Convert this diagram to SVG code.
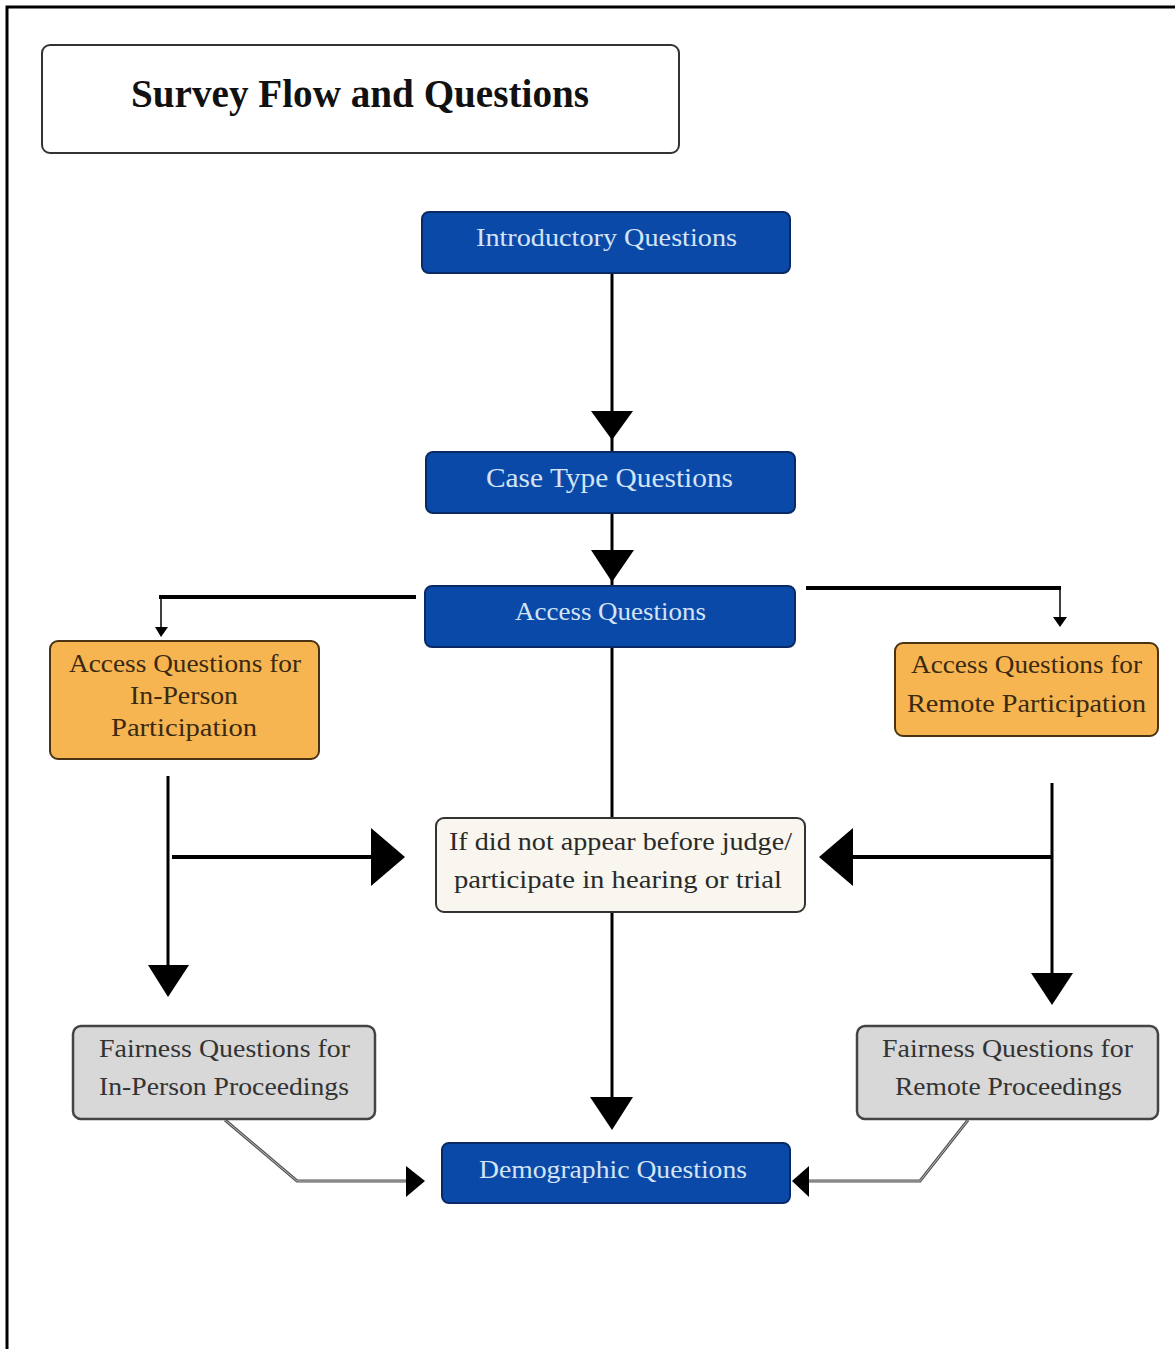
<svg xmlns="http://www.w3.org/2000/svg" width="1175" height="1349" viewBox="0 0 1175 1349">
<defs>
<style>
.t{font-family:"Liberation Serif","Times New Roman",serif;text-anchor:middle}
.blue rect{fill:#0B49A8;stroke:#0A2A66;stroke-width:2}
.blue text{fill:#D3E4F6;font-size:26px}
.orange rect{fill:#F7B551;stroke:#4A3212;stroke-width:2}
.orange text{fill:#3A2A12;font-size:25px}
.cream rect{fill:#F8F6EE;stroke:#333;stroke-width:2}
.cream text{fill:#2A2A2A;font-size:26px}
.gray rect{fill:#D8D8D8;stroke:#444;stroke-width:2.5}
.gray text{fill:#333;font-size:25px}
.ln{stroke:#000;fill:none}
.ah{fill:#000}
</style>
</defs>
<rect x="0" y="0" width="1175" height="1349" fill="#fff"/>
<path d="M7,1349 V7 H1175" fill="none" stroke="#000" stroke-width="3"/>

<g id="title">
<rect x="42" y="45" width="637" height="108" rx="8" fill="#fff" stroke="#333" stroke-width="2"/>
<text class="t" x="360" y="107" font-size="39" font-weight="bold" fill="#111" textLength="458" lengthAdjust="spacingAndGlyphs">Survey Flow and Questions</text>
</g>

<g id="connectors">
<!-- intro -> case -->
<line class="ln" x1="612" y1="273" x2="612" y2="452" stroke-width="3"/>
<polygon class="ah" points="591,411 633,411 612,440"/>
<!-- case -> access -->
<line class="ln" x1="612" y1="513" x2="612" y2="586" stroke-width="3"/>
<polygon class="ah" points="591,550 634,550 612,582"/>
<!-- access -> left orange -->
<line class="ln" x1="416" y1="597" x2="159" y2="597" stroke-width="4"/>
<line class="ln" x1="161" y1="596" x2="161" y2="630" stroke-width="1.5"/>
<polygon class="ah" points="155,627 168,627 161,637"/>
<!-- access -> right orange -->
<line class="ln" x1="806" y1="588" x2="1061" y2="588" stroke-width="4"/>
<line class="ln" x1="1060" y1="588" x2="1060" y2="620" stroke-width="1.5"/>
<polygon class="ah" points="1053,617 1067,617 1060,627"/>
<!-- access -> conditional -->
<line class="ln" x1="612" y1="647" x2="612" y2="818" stroke-width="3"/>
<!-- left orange branch -->
<line class="ln" x1="168" y1="776" x2="168" y2="968" stroke-width="3"/>
<polygon class="ah" points="148,965 189,965 168,997"/>
<line class="ln" x1="172" y1="857" x2="373" y2="857" stroke-width="4"/>
<polygon class="ah" points="371,828 371,886 405,857"/>
<!-- right orange branch -->
<line class="ln" x1="1052" y1="783" x2="1052" y2="976" stroke-width="3"/>
<polygon class="ah" points="1031,973 1073,973 1052,1005"/>
<line class="ln" x1="1052" y1="857" x2="851" y2="857" stroke-width="4"/>
<polygon class="ah" points="853,828 853,886 819,857"/>
<!-- conditional -> demographic -->
<line class="ln" x1="612" y1="913" x2="612" y2="1100" stroke-width="3"/>
<polygon class="ah" points="590,1097 633,1097 612,1130"/>
<!-- fairness left -> demographic -->
<polyline points="225,1120 297,1181 407,1181" fill="none" stroke="#555" stroke-width="3"/>
<polyline points="225,1120 297,1181 407,1181" fill="none" stroke="#bbb" stroke-width="1"/>
<polygon class="ah" points="406,1166 406,1197 425,1181"/>
<!-- fairness right -> demographic -->
<polyline points="968,1120 920,1181 808,1181" fill="none" stroke="#555" stroke-width="3"/>
<polyline points="968,1120 920,1181 808,1181" fill="none" stroke="#bbb" stroke-width="1"/>
<polygon class="ah" points="809,1166 809,1197 792,1181"/>
</g>

<g id="intro" class="blue">
<rect x="422" y="212" width="368" height="61" rx="7"/>
<text class="t" x="606.5" y="246" textLength="261" lengthAdjust="spacingAndGlyphs">Introductory Questions</text>
</g>

<g id="casetype" class="blue">
<rect x="426" y="452" width="369" height="61" rx="7"/>
<text class="t" x="609.5" y="487" style="font-size:27px" textLength="247" lengthAdjust="spacingAndGlyphs">Case Type Questions</text>
</g>

<g id="access" class="blue">
<rect x="425" y="586" width="370" height="61" rx="7"/>
<text class="t" x="610.5" y="620" textLength="191" lengthAdjust="spacingAndGlyphs">Access Questions</text>
</g>

<g id="access-inperson" class="orange">
<rect x="50" y="641" width="269" height="118" rx="8"/>
<text class="t" x="185" y="672" textLength="232" lengthAdjust="spacingAndGlyphs">Access Questions for</text>
<text class="t" x="184" y="704" textLength="108" lengthAdjust="spacingAndGlyphs">In-Person</text>
<text class="t" x="184" y="736" textLength="146" lengthAdjust="spacingAndGlyphs">Participation</text>
</g>

<g id="access-remote" class="orange">
<rect x="895" y="643" width="263" height="93" rx="8"/>
<text class="t" x="1026.5" y="673" textLength="231" lengthAdjust="spacingAndGlyphs">Access Questions for</text>
<text class="t" x="1026.5" y="712" textLength="239" lengthAdjust="spacingAndGlyphs">Remote Participation</text>
</g>

<g id="conditional" class="cream">
<rect x="436" y="818" width="369" height="94" rx="8"/>
<text class="t" x="620.5" y="850" textLength="343" lengthAdjust="spacingAndGlyphs">If did not appear before judge/</text>
<text class="t" x="618" y="888" textLength="328" lengthAdjust="spacingAndGlyphs">participate in hearing or trial</text>
</g>

<g id="fairness-inperson" class="gray">
<rect x="73" y="1026" width="302" height="93" rx="8"/>
<text class="t" x="224.5" y="1057" textLength="251" lengthAdjust="spacingAndGlyphs">Fairness Questions for</text>
<text class="t" x="224" y="1095" textLength="250" lengthAdjust="spacingAndGlyphs">In-Person Proceedings</text>
</g>

<g id="fairness-remote" class="gray">
<rect x="857" y="1026" width="301" height="93" rx="8"/>
<text class="t" x="1007.5" y="1057" textLength="251" lengthAdjust="spacingAndGlyphs">Fairness Questions for</text>
<text class="t" x="1008.5" y="1095" textLength="227" lengthAdjust="spacingAndGlyphs">Remote Proceedings</text>
</g>

<g id="demographic" class="blue">
<rect x="442" y="1143" width="348" height="60" rx="7"/>
<text class="t" x="613" y="1178" textLength="268" lengthAdjust="spacingAndGlyphs">Demographic Questions</text>
</g>
</svg>
